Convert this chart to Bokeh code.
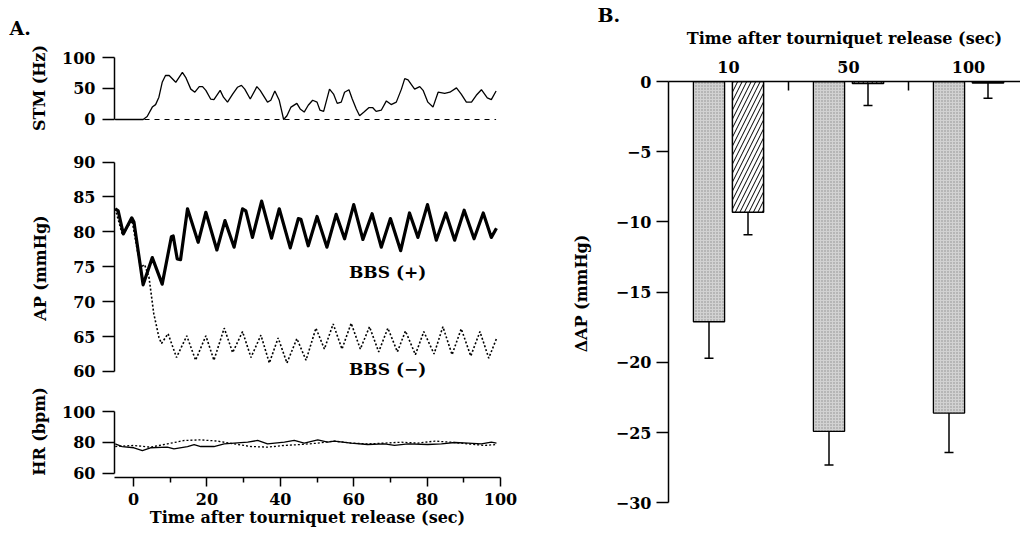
import numpy as np
from bokeh.plotting import figure
from bokeh.layouts import row, column
from bokeh.models import (Range1d, FixedTicker, Label, Whisker, TeeHead,
                          ColumnDataSource)
from bokeh.embed import file_html
from bokeh.resources import INLINE

# ---------------- data : panel A ----------------
stm_t = [-5.0, 2.6, 3.7, 5.1, 6.0, 6.9, 7.8, 8.7, 9.7, 11.5, 13.3, 14.2, 15.6, 16.7, 17.9, 18.8,
         19.7, 21.0, 21.9, 23.6, 24.5, 25.6, 27.0, 28.3, 29.4, 30.3, 31.8, 33.6, 34.5, 36.5, 37.4,
         38.5, 39.7, 40.9, 41.8, 42.9, 44.5, 45.4, 46.5, 47.6, 48.8, 50.0, 50.8, 51.8, 53.4, 54.5,
         55.5, 56.6, 57.5, 58.7, 59.6, 60.7, 61.6, 62.8, 64.1, 65.2, 66.1, 67.5, 68.9, 70.2, 71.6,
         73.0, 73.9, 74.8, 76.6, 78.0, 78.9, 80.2, 81.6, 83.0, 84.8, 86.2, 88.0, 89.3, 90.7, 92.1,
         93.4, 94.8, 96.4, 97.5, 98.8]
stm_hz = [0, 0, 4.8, 20, 24, 36, 60, 71, 71, 60, 76, 68, 49, 44, 53, 53,
          47, 33, 32, 47, 36, 28, 41, 52, 55, 49, 33, 53, 47, 28, 31,
          46, 31, 0, 6, 20, 26, 17, 12, 23, 31, 28, 15, 13, 49, 41,
          26, 28, 44, 48, 33, 17, 6, 12, 19, 19, 13, 15, 30, 24, 28,
          49, 66, 64, 49, 53, 47, 28, 20, 44, 42, 44, 51, 41, 28, 28,
          39, 48, 35, 32, 46]

ap_plus_t = [-5.0, -4.2, -2.8, -0.5, 0.1, 2.6, 5.1, 7.8, 10.3, 10.8, 11.9, 12.8, 14.7, 17.6, 19.7,
             22.7, 24.9, 27.4, 29.7, 30.6, 32.4, 34.9, 37.6, 39.7, 42.7, 44.9, 45.6, 47.6, 50.0,
             52.7, 55.2, 57.5, 60.0, 62.5, 65.0, 67.5, 70.0, 72.8, 75.2, 77.5, 80.1, 82.5, 85.1,
             87.5, 90.1, 92.8, 95.3, 97.5, 98.9]
ap_plus = [83.3, 83.0, 79.7, 82.0, 81.4, 72.4, 76.3, 72.5, 79.3, 79.4, 76.1, 76.0, 83.3, 78.5, 82.8,
           77.4, 81.6, 77.8, 83.3, 83.0, 79.2, 84.4, 79.1, 83.3, 77.7, 81.9, 81.8, 78.0, 82.2,
           77.8, 82.5, 79.0, 83.9, 78.9, 82.6, 77.8, 81.9, 77.3, 82.7, 79.2, 83.9, 78.8, 82.7,
           78.8, 83.1, 79.0, 82.7, 79.2, 80.5]

ap_minus_t = [-5.0, -3.1, -1.7, -0.4, 0.8, 1.9, 3.0, 4.2, 5.5, 6.9, 7.6, 9.4, 11.7, 14.5, 16.9,
              19.7, 21.9, 24.7, 27.0, 29.7, 32.0, 34.7, 37.0, 39.4, 41.8, 44.5, 47.0, 49.7, 52.0,
              54.4, 56.8, 59.3, 61.8, 64.3, 66.8, 69.3, 71.9, 74.1, 76.8, 79.1, 81.9, 84.3, 86.8,
              89.3, 91.9, 94.4, 96.8, 98.9]
ap_minus = [83.3, 79.7, 80.7, 81.6, 78.0, 74.9, 75.3, 73.5, 68.3, 64.9, 64.0, 65.4, 62.0, 65.1, 61.6,
            65.1, 61.6, 66.2, 62.7, 65.7, 62.0, 65.2, 61.2, 64.8, 61.2, 64.7, 61.6, 66.2, 63.2,
            66.8, 63.2, 66.9, 63.2, 66.4, 62.8, 66.2, 62.8, 65.8, 62.4, 65.7, 62.5, 66.4, 62.4,
            66.1, 62.2, 65.7, 61.9, 64.7]

hr_plus_t = [-5.0, -3.1, 0.1, 2.4, 4.6, 9.2, 11.0, 14.7, 16.5, 18.3, 21.9, 24.7, 27.4, 31.1, 33.8,
             36.5, 41.1, 43.8, 46.5, 50.2, 52.9, 54.7, 59.3, 63.8, 68.4, 71.1, 74.8, 80.2, 83.9,
             87.5, 91.2, 94.8, 97.5, 98.9]
hr_plus = [79.1, 77.4, 76.6, 74.8, 76.6, 77.0, 75.9, 77.4, 78.7, 77.4, 77.4, 79.1, 79.6, 80.2, 81.3,
           79.1, 80.2, 81.3, 79.6, 81.7, 80.2, 80.9, 79.6, 78.7, 79.1, 78.1, 79.1, 78.7, 79.1,
           80.0, 79.6, 79.1, 80.2, 79.6]

hr_minus_t = [-5.0, 0.1, 4.6, 9.2, 13.8, 18.3, 22.9, 27.4, 32.0, 36.5, 41.1, 45.6, 50.2, 54.7,
              59.3, 63.8, 68.4, 73.0, 77.5, 82.1, 86.6, 91.2, 95.7, 98.9]
hr_minus = [77.4, 78.1, 77.0, 79.1, 81.3, 81.7, 80.9, 79.1, 77.4, 77.0, 78.1, 78.7, 79.6, 80.9,
            79.6, 79.1, 79.6, 80.2, 79.6, 80.9, 80.2, 79.1, 78.1, 78.7]

stm_ticks = [0, 50, 100]
ap_ticks = [60, 65, 70, 75, 80, 85, 90]
hr_ticks = [60, 80, 100]
time_ticks = [0, 20, 40, 60, 80, 100]
time_minor = [10, 30, 50, 70, 90]

# ---------------- data : panel B ----------------
groups = ["10", "50", "100"]
stip_mean = [-17.1, -24.9, -23.6]
stip_err = [2.6, 2.4, 2.8]
hatch_mean = [-9.3, -0.15, -0.1]
hatch_err = [1.6, 1.55, 1.1]
dap_ticks = [0, -5, -10, -15, -20, -25, -30]

FONT = "DejaVu Serif"
FS = "16px"


def style_axis(ax):
    ax.axis_line_width = 1.5
    ax.major_tick_line_width = 1.5
    ax.minor_tick_line_width = 1.5
    ax.axis_line_color = "black"
    ax.major_tick_line_color = "black"
    ax.major_label_text_font = FONT
    ax.major_label_text_font_style = "bold"
    ax.major_label_text_font_size = FS
    ax.major_label_text_color = "black"
    ax.axis_label_text_font = FONT
    ax.axis_label_text_font_style = "bold"
    ax.axis_label_text_font_size = FS
    ax.axis_label_text_color = "black"


def style_yaxis(ax, ticks, bounds, label, standoff):
    style_axis(ax)
    ax.ticker = FixedTicker(ticks=ticks)
    ax.bounds = bounds
    ax.major_tick_out = 12
    ax.major_tick_in = 0
    ax.minor_tick_line_color = None
    ax.major_label_standoff = 7
    ax.axis_label = label
    ax.axis_label_standoff = standoff


def base_fig(**kw):
    p = figure(output_backend="svg", toolbar_location=None, **kw)
    p.outline_line_color = None
    p.xgrid.visible = False
    p.ygrid.visible = False
    p.background_fill_color = "white"
    p.border_fill_color = "white"
    return p


def panel_title(p, text, offset, standoff):
    p.title.text = text
    p.title.align = "left"
    p.title.offset = offset
    p.title.standoff = standoff
    p.title.text_font = FONT
    p.title.text_font_style = "bold"
    p.title.text_font_size = "19px"
    p.title.text_color = "black"


XR = (-5.2, 100.0)

# ---- STM panel ----
p1 = base_fig(frame_width=386, frame_height=75, x_range=Range1d(*XR),
              y_range=Range1d(-9.7, 111.3), min_border_left=114, min_border_right=68,
              min_border_top=50, min_border_bottom=25)
p1.xaxis.visible = False
p1.line(stm_t, stm_hz, line_color="black", line_width=1.3)
p1.line([XR[0], stm_t[-1]], [0, 0], line_color="black", line_width=1.2, line_dash="5 5")
style_yaxis(p1.yaxis[0], stm_ticks, (0, 100), "STM (Hz)", 10)
panel_title(p1, "A.", -105, 24)

# ---- AP panel ----
p2 = base_fig(frame_width=386, frame_height=235, x_range=p1.x_range,
              y_range=Range1d(57.98, 91.65), min_border_left=114, min_border_right=68,
              min_border_top=0, min_border_bottom=0)
p2.xaxis.visible = False
p2.line(ap_minus_t, ap_minus, line_color="black", line_width=1.6, line_dash="2 2")
p2.line(ap_plus_t, ap_plus, line_color="black", line_width=3.2, line_join="round")
style_yaxis(p2.yaxis[0], ap_ticks, (60, 90), "AP (mmHg)", 20)
for txt, yv in (("BBS (+)", 74.3), ("BBS (\u2212)", 60.4)):
    p2.add_layout(Label(x=58.7, y=yv, text=txt, text_font=FONT, text_font_style="bold",
                        text_font_size="17px", text_baseline="middle", text_align="left",
                        text_color="black"))

# ---- HR panel ----
p3 = base_fig(frame_width=386, frame_height=92, x_range=p1.x_range,
              y_range=Range1d(57.4, 116.8), min_border_left=114, min_border_right=68,
              min_border_top=0, min_border_bottom=63)
p3.line(hr_minus_t, hr_minus, line_color="black", line_width=1.3, line_dash="2 2")
p3.line(hr_plus_t, hr_plus, line_color="black", line_width=1.3)
style_yaxis(p3.yaxis[0], hr_ticks, (60, 100), "HR (bpm)", 10)
xa = p3.xaxis[0]
style_axis(xa)
xa.ticker = FixedTicker(ticks=time_ticks, minor_ticks=time_minor)
xa.major_tick_out = 9
xa.major_tick_in = 0
xa.minor_tick_out = 5
xa.minor_tick_in = 0
xa.minor_tick_line_color = "black"
xa.major_label_standoff = 6
xa.axis_label = "Time after tourniquet release (sec)"
xa.axis_label_standoff = 0

left = column(p1, p2, p3, spacing=0)

# ---- panel B ----
pb = base_fig(frame_width=352, frame_height=424, x_range=Range1d(0, 352 / 120),
              y_range=Range1d(-30.18, 0.0), x_axis_location="above",
              min_border_left=100, min_border_right=0, min_border_top=81,
              min_border_bottom=35)
gx = np.arange(len(groups)) + 0.5
off = 0.1625
bw = 0.26
pb.vbar(x=gx - off, width=bw, top=0, bottom=stip_mean, fill_color="#d2d2d2",
        hatch_pattern="dot", hatch_color="#8c8c8c", hatch_scale=3, hatch_weight=1,
        line_color="black", line_width=1.3)
pb.vbar(x=gx + off, width=bw, top=0, bottom=hatch_mean, fill_color="white",
        hatch_pattern="/", hatch_color="black", hatch_scale=9, hatch_weight=1,
        line_color="black", line_width=1.5)

sm = np.array(stip_mean); se = np.array(stip_err)
hm = np.array(hatch_mean); he = np.array(hatch_err)
err_src = ColumnDataSource(dict(
    x=np.concatenate([gx - off, gx + off]),
    upper=np.minimum(np.concatenate([sm + se, hm + he]), 0),
    lower=np.concatenate([sm - se, hm - he]),
))
pb.add_layout(Whisker(source=err_src, base="x", upper="upper", lower="lower",
                      dimension="height", line_color="black", line_width=1.5,
                      upper_head=TeeHead(size=9, line_width=1.5),
                      lower_head=TeeHead(size=9, line_width=1.5)))

ya = pb.yaxis[0]
style_yaxis(ya, dap_ticks, (-30, 0), "\u0394AP (mmHg)", 22)
ya.major_label_overrides = {t: (("\u2212" + str(abs(t))) if t < 0 else str(t)) for t in dap_ticks}
ya.major_label_standoff = 5

xa = pb.xaxis[0]
style_axis(xa)
xa.ticker = FixedTicker(ticks=list(gx), minor_ticks=[1, 2])
xa.major_label_overrides = {float(v): g for v, g in zip(gx, groups)}
xa.major_tick_out = 0
xa.major_tick_in = 0
xa.minor_tick_in = 9
xa.minor_tick_out = 0
xa.minor_tick_line_color = "black"
xa.major_label_standoff = 9
xa.axis_label = "Time after tourniquet release (sec)"
xa.axis_label_standoff = 10
panel_title(pb, "B.", -71, 0)

layout = row(left, pb, spacing=0)
open("out.html", "w").write(file_html(layout, INLINE))
